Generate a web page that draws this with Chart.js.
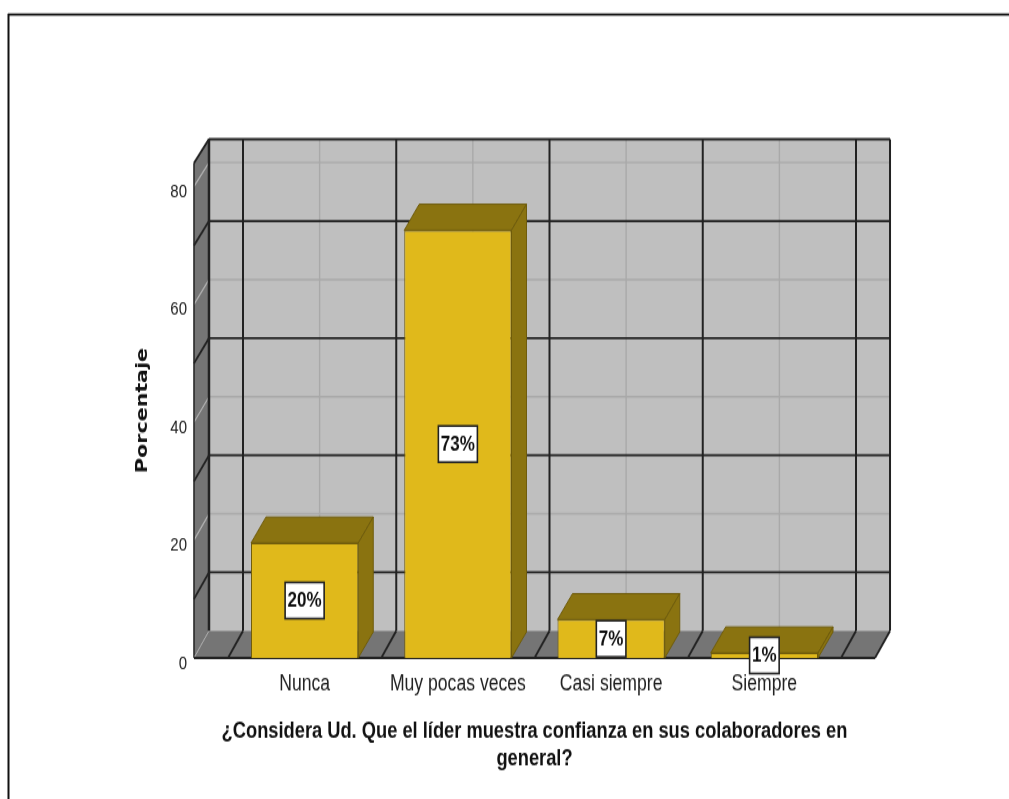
<!DOCTYPE html>
<html><head><meta charset="utf-8">
<style>html,body{margin:0;padding:0;background:#fff;overflow:hidden}
#wrap{width:1009px;height:799px;overflow:hidden}
canvas{display:block;transform-origin:0 0;transform:scaleY(1.2484);filter:blur(0.3px)}</style>
<script src="https://cdn.jsdelivr.net/npm/chart.js@4"></script>
</head><body>
<div id="wrap"><canvas id="c" width="1009" height="640"></canvas></div>
<script>
const categories = ['Nunca', 'Muy pocas veces', 'Casi siempre', 'Siempre'];
const percentages = [19.5, 72.6, 6.5, 0.85];
const barLabels = ['20%', '73%', '7%', '1%'];
const minorGridValues = [20, 40, 60, 80];
const majorGridValues = [10, 30, 50, 70];
const xAxisTitle = ['¿Considera Ud. Que el líder muestra confianza en sus colaboradores en', 'general?'];
const yAxisTitle = 'Porcentaje';

const SANS = '"Liberation Sans",Arial,sans-serif';
const COL = {wall:'#bfbfbf', side:'#757575', dark:'#222222', light:'#a9a9a9', sideLight:'#b4b4b4',
  bar:'#e0b91b', barDark:'#8a7310', barEdge:'#6f5c0c'};
const K = 799/640, DX = 15, OUTER = 0.222;

function poly(ctx, pts, fill, stroke, lw){
  ctx.beginPath();
  pts.forEach((p,i)=> i ? ctx.lineTo(p[0],p[1]) : ctx.moveTo(p[0],p[1]));
  ctx.closePath();
  if(fill){ctx.fillStyle=fill;ctx.fill();}
  if(stroke){ctx.strokeStyle=stroke;ctx.lineWidth=lw||1;ctx.stroke();}
}
function seg(ctx,x1,y1,x2,y2,c,w){
  ctx.beginPath();ctx.moveTo(x1,y1);ctx.lineTo(x2,y2);ctx.strokeStyle=c;ctx.lineWidth=w;ctx.stroke();
}

const stage3d = {
  id:'stage3d',
  beforeDraw(chart){
    // let the long axis title use the full width of the floor
    const x = chart.scales.x;
    x.left = x.getPixelForValue(-0.5-OUTER);
    x.right = x.getPixelForValue(categories.length-0.5+OUTER);
  },
  beforeDatasetsDraw(chart){
    const {ctx} = chart, x = chart.scales.x, y = chart.scales.y;
    const n = categories.length;
    const left = x.getPixelForValue(-0.5-OUTER), right = x.getPixelForValue(n-0.5+OUTER);
    const dy = v => (27 - 3*v/y.max)/K;
    const fy = v => y.getPixelForValue(v);
    const by = v => fy(v) - dy(v);
    const top = y.max, bL = left+DX, bR = right+DX;
    ctx.save();
    // page frame
    seg(ctx,8,11.6,chart.width,11.6,'#111',1.6);
    seg(ctx,8.5,11,8.5,chart.height,'#111',2);
    // walls
    poly(ctx,[[bL,by(top)],[bR,by(top)],[bR,by(0)],[bL,by(0)]],COL.wall);
    poly(ctx,[[left,fy(0)],[bL,by(0)],[bL,by(top)],[left,fy(top)]],COL.side);
    poly(ctx,[[left,fy(0)],[right,fy(0)],[bR,by(0)],[bL,by(0)]],COL.side);
    // minor grid
    minorGridValues.forEach(v=>{
      seg(ctx,bL,by(v),bR,by(v),COL.light,1.4);
      seg(ctx,left,fy(v),bL,by(v),COL.sideLight,1.2);
    });
    categories.forEach((c,i)=>{
      const px = x.getPixelForValue(i)+DX;
      seg(ctx,px,by(top),px,by(0),COL.light,1.4);
    });
    // major grid
    majorGridValues.forEach(v=>{
      seg(ctx,bL,by(v),bR,by(v),COL.dark,1.7);
      seg(ctx,left,fy(v),bL,by(v),COL.dark,1.8);
    });
    for(let i=0;i<=n;i++){
      const px = x.getPixelForValue(i-0.5);
      seg(ctx,px+DX,by(top),px+DX,by(0),COL.dark,2);
      seg(ctx,px,fy(0),px+DX,by(0),COL.dark,1.8);
    }
    // outline
    seg(ctx,bL,by(top),bR,by(top),COL.dark,2);
    seg(ctx,bL,by(top),bL,by(0),COL.dark,2.5);
    seg(ctx,bR,by(top),bR,by(0),COL.dark,2);
    seg(ctx,left,fy(top),bL,by(top),COL.dark,1.8);
    seg(ctx,left,fy(top),left,fy(0),COL.dark,1.5);
    seg(ctx,left,fy(0),bL,by(0),COL.light,1);
    seg(ctx,left,fy(0),right,fy(0),COL.dark,2);
    seg(ctx,right,fy(0),bR,by(0),COL.dark,1.8);
    // bar depth faces
    chart.getDatasetMeta(0).data.forEach(b=>{
      const l=b.x-b.width/2, r=b.x+b.width/2, t=b.y, base=b.base, d=26/K;
      poly(ctx,[[l,t],[r,t],[r+DX,t-d],[l+DX,t-d]],COL.barDark,COL.barEdge,1);
      poly(ctx,[[r,t],[r+DX,t-d],[r+DX,base-d],[r,base]],COL.barDark,COL.barEdge,1);
    });
    ctx.restore();
  },
  afterDatasetsDraw(chart){
    const {ctx} = chart;
    ctx.save();
    ctx.font = 'bold 17px '+SANS;
    ctx.textAlign='center';ctx.textBaseline='middle';
    chart.getDatasetMeta(0).data.forEach((b,i)=>{
      const cy=(b.y+b.base)/2, w=ctx.measureText(barLabels[i]).width+5, h=29;
      const bx = b.x-w/2, top=cy-h/2;
      ctx.fillStyle='#fff';ctx.fillRect(bx,top,w,h);
      ctx.strokeStyle='#222';ctx.lineWidth=1.6;ctx.strokeRect(bx,top,w,h);
      ctx.fillStyle='#111';ctx.fillText(barLabels[i],b.x,cy+0.5);
    });
    ctx.restore();
  }
};

new Chart(document.getElementById('c'),{
  type:'bar',
  data:{labels:categories,datasets:[{data:percentages,backgroundColor:COL.bar,borderColor:COL.barEdge,borderWidth:1,
    barPercentage:0.7,categoryPercentage:1}]},
  plugins:[stage3d],
  options:{
    responsive:false,animation:false,
    layout:{padding:{left:125,right:168,top:130.6,bottom:0}},
    plugins:{legend:{display:false},tooltip:{enabled:false},title:{display:false}},
    scales:{
      x:{
        grid:{display:false,drawTicks:false},border:{display:false},
        ticks:{color:'#222',font:{family:SANS,size:17.6},padding:10.5,maxRotation:0,autoSkip:false},
        title:{display:true,text:xAxisTitle,color:'#111',font:{family:SANS,size:18.3,weight:'bold',lineHeight:1.2},padding:{top:0,bottom:21.2}},
        afterFit(s){s.height=113;}
      },
      y:{
        min:0,max:84,
        grid:{display:false,drawTicks:false},border:{display:false},
        ticks:{stepSize:20,includeBounds:false,color:'#222',padding:41,
          font:{family:SANS,size:15,lineHeight:0.6},
          callback:v=>['',String(v)]},
        title:{display:true,text:yAxisTitle,color:'#111',font:{family:'"DejaVu Sans",sans-serif',size:16.5,weight:'bold'},padding:{top:8,bottom:0}},
        afterFit(s){s.width=103;}
      }
    }
  }
});
</script>
</body></html>
